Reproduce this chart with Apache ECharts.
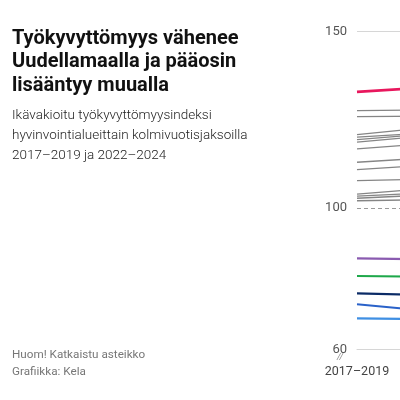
<!DOCTYPE html>
<html>
<head>
<meta charset="utf-8">
<script src="https://cdn.jsdelivr.net/npm/echarts@6/dist/echarts.min.js"></script>
<style>html,body{margin:0;padding:0;background:#fff;overflow:hidden;width:400px;height:400px}#c{width:600px;height:400px}</style>
</head>
<body>
<div id="c"></div>
<script>
var periods = ['2017–2019', '2022–2024'];
var yTickLabels = [60, 100, 150];

// Highlighted region (top, pink)
var pinkStart = 132.9, pinkEnd = 136.5;

// Other regions (grey)
var greyStart = [127.6, 125.9, 120.8, 120.1, 119.4, 118.7, 116.8, 113.0, 110.9, 107.8, 104.0, 103.4, 102.8, 102.1];
var greyEnd   = [128.2, 126.3, 126.5, 123.5, 124.0, 123.8, 121.0, 116.5, 114.5, 109.0, 108.5, 106.0, 105.5, 103.0];

// Uusimaa regions (coloured)
var uusiStart  = [85.8, 80.8, 75.9, 72.8, 68.8];
var uusiEnd    = [85.0, 80.2, 74.5, 67.5, 68.2];
var uusiColors = ['#8a5bb0', '#1ea84a', '#0b2b66', '#2a62c9', '#3f8fe3'];

var chart = echarts.init(document.getElementById('c'), null, {renderer: 'canvas', width: 600, height: 400});

var series = [];
series.push({
  type: 'line', data: [], silent: true,
  markLine: {
    symbol: 'none', silent: true, label: {show: false},
    data: [
      {yAxis: 150, lineStyle: {color: '#d6d6d6', width: 1, type: 'solid'}},
      {yAxis: 100, lineStyle: {color: '#9a9a9a', width: 1, type: [4, 3]}}
    ]
  }
});
greyStart.forEach(function (s, i) {
  series.push({type: 'line', data: [s, greyEnd[i]], symbol: 'none', silent: true,
    lineStyle: {color: '#858585', width: 1.3}});
});
uusiStart.forEach(function (s, i) {
  series.push({type: 'line', data: [s, uusiEnd[i]], symbol: 'none', silent: true,
    lineStyle: {color: uusiColors[i], width: 2.2}});
});
series.push({type: 'line', data: [pinkStart, pinkEnd], symbol: 'none', silent: true,
  lineStyle: {color: '#e8175d', width: 2.6}});

var option = {
  animation: false,
  backgroundColor: '#fff',
  grid: {left: 357, right: 43, top: 31.5, bottom: 50.5, containLabel: false},
  xAxis: {
    type: 'category', data: periods, boundaryGap: false,
    axisLine: {show: true, lineStyle: {color: '#d6d6d6', width: 1}},
    axisTick: {show: false},
    axisLabel: {color: '#444', fontSize: 12.5, fontFamily: 'Roboto', margin: 16}
  },
  yAxis: {
    type: 'value', min: 60, max: 150, interval: 10,
    axisLine: {show: false}, axisTick: {show: false}, splitLine: {show: false},
    axisLabel: {color: '#555', fontSize: 13, fontFamily: 'Roboto', margin: 10,
      formatter: function (v) { return yTickLabels.indexOf(v) >= 0 ? String(v) : ''; }}
  },
  series: series,
  graphic: [
    {type: 'text', left: 12, top: 27, silent: true,
      style: {text: 'Työkyvyttömyys vähenee\nUudellamaalla ja pääosin\nlisääntyy muualla',
        fill: '#111', font: 'bold 20px Roboto', lineHeight: 23.5}},
    {type: 'text', left: 12, top: 106, silent: true,
      style: {text: 'Ikävakioitu työkyvyttömyysindeksi\nhyvinvointialueittain kolmivuotisjaksoilla\n2017–2019 ja 2022–2024',
        fill: '#222', font: '300 13.5px Roboto', lineHeight: 19.7}},
    {type: 'text', left: 12, top: 347, silent: true,
      style: {text: 'Huom! Katkaistu asteikko\nGrafiikka: Kela',
        fill: '#777', font: '11.7px Roboto', lineHeight: 17}},
    {type: 'text', left: 337, top: 353, silent: true,
      style: {text: '//', fill: '#888', font: 'italic 9px Roboto'}}
  ]
};
chart.setOption(option);
</script>
</body>
</html>
